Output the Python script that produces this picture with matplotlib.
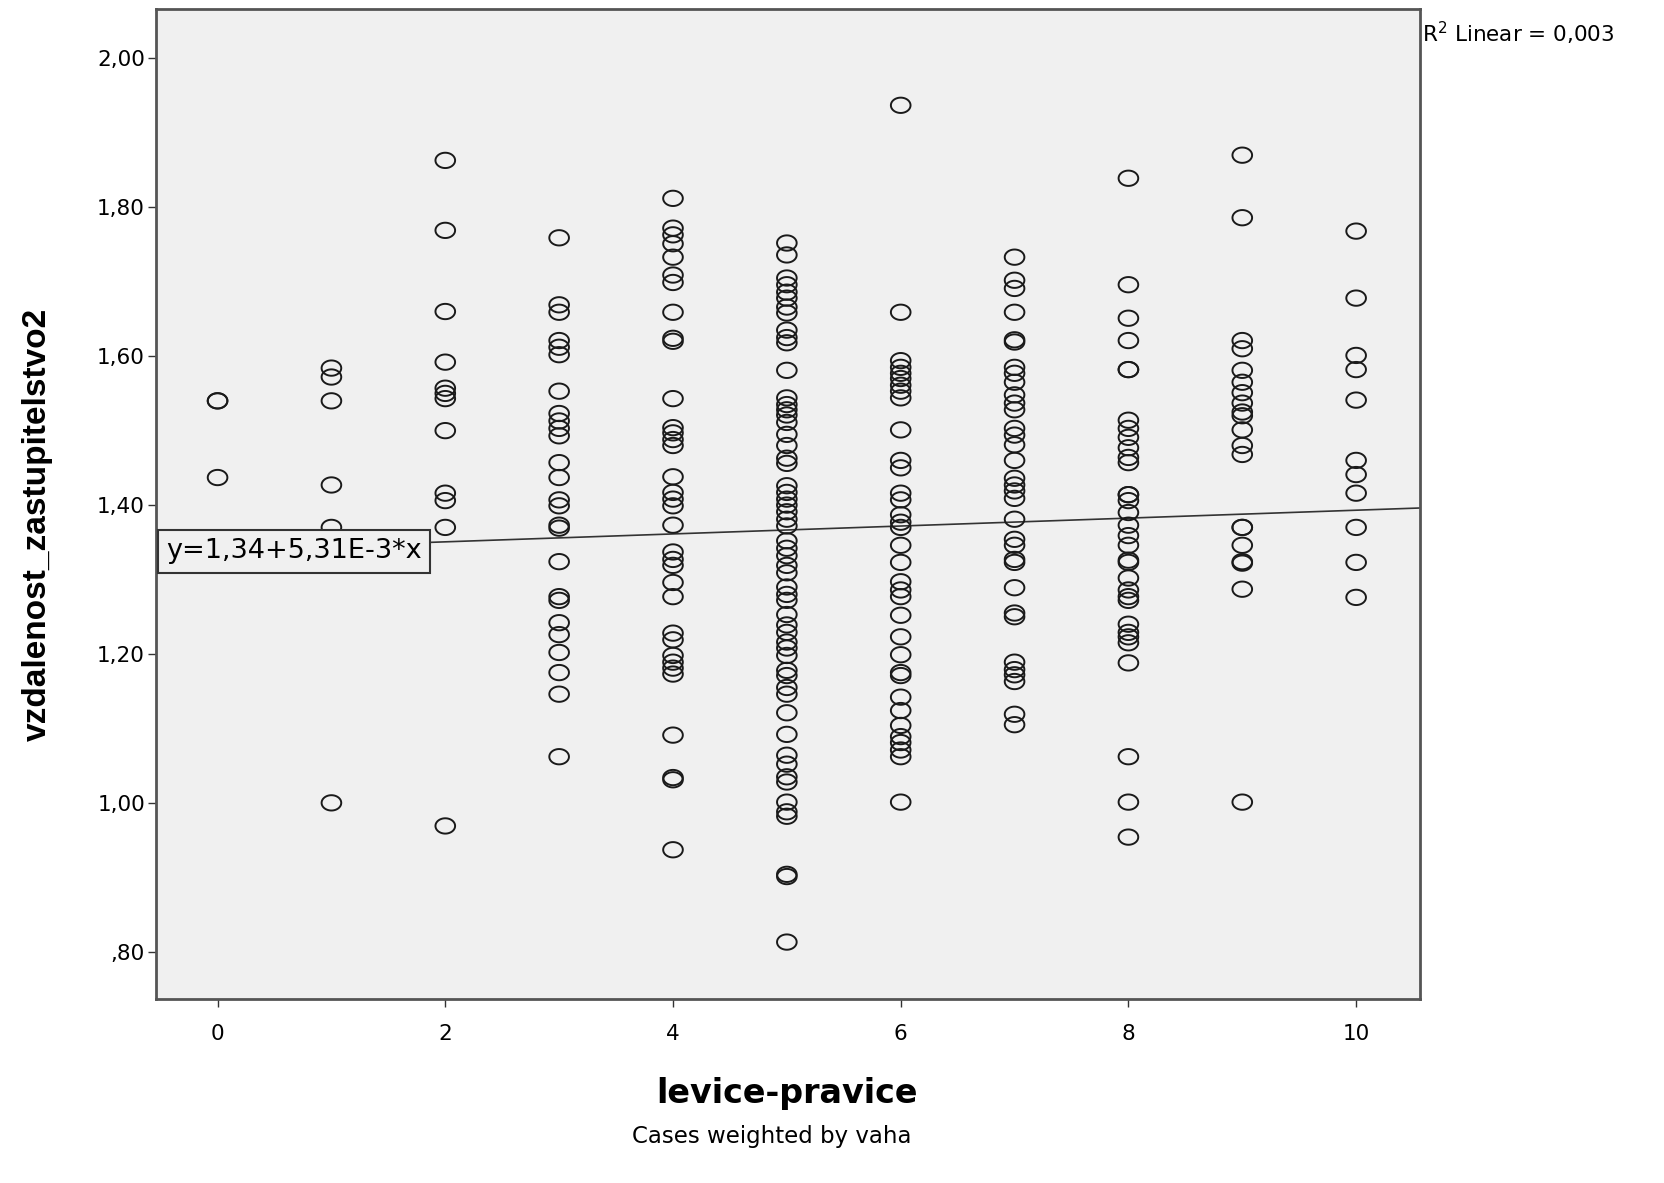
import numpy as np
import matplotlib
matplotlib.use("Agg")
import matplotlib.pyplot as plt
from matplotlib.path import Path

plt.rcParams['font.family'] = ['DejaVu Sans']

# hodnoty (levice-pravice -> vzdalenost_zastupitelstvo2)
y0 = [1.54, 1.54, 1.437]
y1 = [1.584, 1.572, 1.54, 1.427, 1.37, 1.0]
y2 = [1.863, 1.769, 1.66, 1.592, 1.557, 1.55, 1.543, 1.50, 1.416, 1.406, 1.37, 0.969]
y3 = [1.759, 1.669, 1.659, 1.621, 1.612, 1.602, 1.553, 1.523, 1.513, 1.503, 1.493,
      1.457, 1.437, 1.407, 1.399, 1.373, 1.369, 1.324, 1.277, 1.272, 1.242, 1.226,
      1.202, 1.175, 1.146, 1.062]
y4 = [1.812, 1.772, 1.763, 1.751, 1.733, 1.709, 1.699, 1.659, 1.624, 1.62, 1.543,
      1.504, 1.497, 1.488, 1.48, 1.438, 1.417, 1.408, 1.399, 1.373, 1.337, 1.327,
      1.319, 1.296, 1.277, 1.228, 1.219, 1.198, 1.189, 1.181, 1.173, 1.091, 1.034,
      1.031, 0.937]
y5 = [1.752, 1.736, 1.705, 1.696, 1.686, 1.678, 1.666, 1.658, 1.635, 1.625, 1.618,
      1.581, 1.544, 1.535, 1.528, 1.521, 1.511, 1.495, 1.48, 1.463, 1.456, 1.426,
      1.417, 1.408, 1.40, 1.391, 1.381, 1.372, 1.352, 1.342, 1.332, 1.319, 1.309,
      1.29, 1.28, 1.272, 1.253, 1.239, 1.229, 1.216, 1.208, 1.198, 1.178, 1.171,
      1.155, 1.146, 1.121, 1.092, 1.064, 1.052, 1.035, 1.028, 1.001, 0.988, 0.982,
      0.904, 0.901, 0.813]
y6 = [1.937, 1.659, 1.594, 1.585, 1.577, 1.57, 1.561, 1.553, 1.544, 1.501, 1.46,
      1.45, 1.416, 1.407, 1.387, 1.377, 1.37, 1.346, 1.323, 1.297, 1.286, 1.277,
      1.252, 1.223, 1.199, 1.175, 1.171, 1.142, 1.124, 1.104, 1.089, 1.081, 1.071,
      1.062, 1.001]
y7 = [1.733, 1.702, 1.691, 1.659, 1.622, 1.619, 1.585, 1.577, 1.565, 1.548, 1.537,
      1.528, 1.503, 1.494, 1.481, 1.46, 1.436, 1.427, 1.419, 1.409, 1.381, 1.354,
      1.346, 1.327, 1.323, 1.289, 1.255, 1.25, 1.189, 1.179, 1.172, 1.163, 1.119,
      1.105]
y8 = [1.839, 1.696, 1.651, 1.621, 1.582, 1.582, 1.514, 1.503, 1.491, 1.477, 1.464,
      1.457, 1.414, 1.414, 1.406, 1.39, 1.373, 1.359, 1.346, 1.326, 1.323, 1.302,
      1.286, 1.277, 1.272, 1.24, 1.229, 1.223, 1.215, 1.188, 1.062, 1.001, 0.954]
y9 = [1.87, 1.786, 1.621, 1.61, 1.581, 1.565, 1.551, 1.537, 1.525, 1.52, 1.501,
      1.48, 1.468, 1.37, 1.37, 1.346, 1.324, 1.322, 1.287, 1.001]
y10 = [1.768, 1.678, 1.601, 1.582, 1.541, 1.46, 1.441, 1.416, 1.37, 1.323, 1.276]

groups = [y0, y1, y2, y3, y4, y5, y6, y7, y8, y9, y10]

# fit line z SPSS: y = 1,34 + 5,31E-3 * x
a = 1.34
b = 5.31e-3
r2_text = 'R$^2$ Linear = 0,003'

xticks = [0, 2, 4, 6, 8, 10]
yticks = [0.8, 1.0, 1.2, 1.4, 1.6, 1.8, 2.0]


def spss_fmt(v):
    s = f'{v:.2f}'.replace('.', ',')
    return s[1:] if s.startswith('0') else s


# SPSS kresli kolecka trochu sirsi nez vyssi
t = np.linspace(0, 2 * np.pi, 60)
ellipse = Path(np.column_stack([np.cos(t), 0.78 * np.sin(t)]), closed=True)

fig = plt.figure(figsize=(16.64, 11.83), dpi=100)
fig.patch.set_facecolor('white')
ax = fig.add_axes([0.0938, 0.1552, 0.8533 - 0.0938, 0.9928 - 0.1552])
ax.set_facecolor('#f0f0f0')

for x, ys in enumerate(groups):
    ax.scatter([x] * len(ys), ys, marker=ellipse, s=200, facecolors='none',
               edgecolors='#1a1a1a', linewidths=1.4, zorder=3)

xlim = (-0.54, 10.56)
ax.set_xlim(xlim)
ax.set_ylim(0.736, 2.067)
xs = np.array(xlim)
ax.plot(xs, a + b * xs, color='#333333', lw=1.2, zorder=2)

ax.set_xticks(xticks)
ax.set_xticklabels([str(v) for v in xticks])
ax.set_yticks(yticks)
ax.set_yticklabels([spss_fmt(v) for v in yticks])
ax.tick_params(direction='out', length=6, width=1, colors='#333333', labelsize=15.5,
               labelcolor='black')
ax.tick_params(axis='y', pad=2)
ax.tick_params(axis='x', pad=12)

for sp in ax.spines.values():
    sp.set_color('#555555')
    sp.set_linewidth(2)

ax.set_xlabel('levice-pravice', fontsize=24, fontweight='bold')
ax.xaxis.set_label_coords(0.4996, -0.078)
ax.set_ylabel('vzdalenost_zastupitelstvo2', fontsize=24, fontweight='bold',
              family='Liberation Sans')
ax.yaxis.set_label_coords(-0.082, 0.479)

ax.text(0.008, a + b * 0.5 - 0.005, 'y=1,34+5,31E-3*x', transform=ax.get_yaxis_transform(),
        fontsize=19.5, va='center', ha='left', zorder=4,
        bbox=dict(boxstyle='square,pad=0.32', facecolor='#f0f0f0', edgecolor='#333333', lw=1.5))

fig.text(0.8545, 0.972, r2_text, fontsize=15.5, ha='left', va='center')
fig.text(0.4636, 0.0395, 'Cases weighted by vaha', fontsize=16.5, ha='center', va='center')

fig.savefig('out.png', dpi=100)
